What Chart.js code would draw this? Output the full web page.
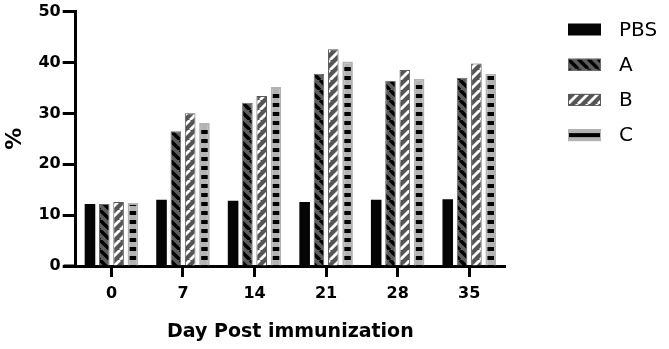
<!DOCTYPE html>
<html>
<head>
<meta charset="utf-8">
<script src="https://cdn.jsdelivr.net/npm/chart.js@4.4.1/dist/chart.umd.min.js"></script>
<style>
html,body{margin:0;padding:0;background:#fff;}
#wrap{width:669px;height:349px;position:relative;}
</style>
</head>
<body>
<div id="wrap"><canvas id="c" width="669" height="349"></canvas></div>
<script>
const categories = ['0', '7', '14', '21', '28', '35'];
const seriesNames = ['PBS', 'A', 'B', 'C'];
const pbsValues = [12.2, 13.0, 12.8, 12.6, 13.0, 13.1];
const aValues = [12.2, 26.5, 32.1, 37.8, 36.4, 37.0];
const bValues = [12.6, 30.0, 33.4, 42.6, 38.5, 39.8];
const cValues = [12.4, 28.1, 35.2, 40.2, 36.8, 37.8];
const yTicks = [0, 10, 20, 30, 40, 50];

function makeTile(w, h, draw) {
  const cv = document.createElement('canvas');
  cv.width = w; cv.height = h;
  const g = cv.getContext('2d');
  draw(g, w, h);
  return document.getElementById('c').getContext('2d').createPattern(cv, 'repeat');
}
const patA = makeTile(10, 10, (g, s) => {
  g.fillStyle = '#5e5e5e'; g.fillRect(0, 0, s, s);
  g.strokeStyle = '#000'; g.lineWidth = 3.4;
  for (const x0 of [-s, 0, s]) { g.beginPath(); g.moveTo(x0, 0); g.lineTo(x0 + s, s); g.stroke(); }
});
const patB = makeTile(10, 10, (g, s) => {
  g.fillStyle = '#555555'; g.fillRect(0, 0, s, s);
  g.strokeStyle = '#fff'; g.lineWidth = 2.8;
  for (const x0 of [-s, 0, s]) { g.beginPath(); g.moveTo(x0, s); g.lineTo(x0 + s, 0); g.stroke(); }
});
const patC = makeTile(4, 9, (g, w, h) => {
  g.fillStyle = '#b3b3b3'; g.fillRect(0, 0, w, h);
  g.fillStyle = '#000'; g.fillRect(0, 4, w, 4);
});

const legendPlugin = {
  id: 'customLegend',
  afterDraw(chart) {
    const ctx = chart.ctx;
    ctx.save();
    chart.data.datasets.forEach((ds, i) => {
      const x = 568, w = 33, h = 12;
      const yc = 29.5 + i * 35.2;
      ctx.save();
      ctx.translate(x, yc - h / 2);
      ctx.fillStyle = ds.backgroundColor;
      ctx.fillRect(0, 0, w, h);
      if (ds.borderWidth) {
        ctx.strokeStyle = ds.borderColor; ctx.lineWidth = 1;
        ctx.strokeRect(0.5, 0.5, w - 1, h - 1);
      }
      ctx.restore();
      ctx.fillStyle = '#000';
      ctx.font = '20px "DejaVu Sans"';
      ctx.textBaseline = 'middle';
      ctx.textAlign = 'left';
      ctx.fillText(ds.label, 619, yc + 1);
    });
    ctx.restore();
  }
};
const axisExt = {
  id: 'axisExt',
  afterDraw(chart) {
    const ctx = chart.ctx, a = chart.chartArea;
    ctx.save();
    ctx.strokeStyle = '#000'; ctx.lineWidth = 3;
    ctx.beginPath(); ctx.moveTo(a.left - 12, a.bottom); ctx.lineTo(a.left, a.bottom); ctx.stroke();
    ctx.restore();
  }
};

const tickFont = { family: '"DejaVu Sans"', size: 16, weight: 'bold' };
new Chart(document.getElementById('c'), {
  type: 'bar',
  data: {
    labels: categories,
    datasets: [
      { label: seriesNames[0], data: pbsValues, backgroundColor: '#050505', borderWidth: 0 },
      { label: seriesNames[1], data: aValues, backgroundColor: patA, borderColor: '#6a6a6a', borderWidth: 1 },
      { label: seriesNames[2], data: bValues, backgroundColor: patB, borderColor: '#5a5a5a', borderWidth: 1 },
      { label: seriesNames[3], data: cValues, backgroundColor: patC, borderColor: '#b3b3b3', borderWidth: 2 }
    ]
  },
  options: {
    responsive: false,
    animation: false,
    devicePixelRatio: 1,
    layout: { padding: { left: 2, right: 164, top: 0, bottom: 4 } },
    datasets: { bar: { categoryPercentage: 0.8, barPercentage: 0.74, borderSkipped: 'start' } },
    plugins: { legend: { display: false }, tooltip: { enabled: false } },
    scales: {
      x: {
        offset: true,
        grid: { offset: false, drawOnChartArea: false, drawTicks: true, tickLength: 11, tickWidth: 3, tickColor: '#000' },
        border: { display: true, width: 3, color: '#000' },
        ticks: { font: tickFont, color: '#000', padding: 7, maxRotation: 0 },
        title: { display: true, text: 'Day Post immunization', font: { family: '"DejaVu Sans"', size: 19, weight: 'bold' }, color: '#000', padding: { top: 10, bottom: 2 } }
      },
      y: {
        min: 0, max: 50,
        afterBuildTicks(scale) { scale.ticks = yTicks.map(v => ({ value: v })); },
        grid: { drawOnChartArea: false, drawTicks: true, tickLength: 13, tickWidth: 3, tickColor: '#000' },
        border: { display: true, width: 3, color: '#000' },
        ticks: { font: tickFont, color: '#000', padding: 2 },
        title: { display: true, text: '%', font: { family: '"DejaVu Sans"', size: 22, weight: 'bold' }, color: '#000', padding: { top: 0, bottom: 8 } }
      }
    }
  },
  plugins: [legendPlugin, axisExt]
});
</script>
</body>
</html>
